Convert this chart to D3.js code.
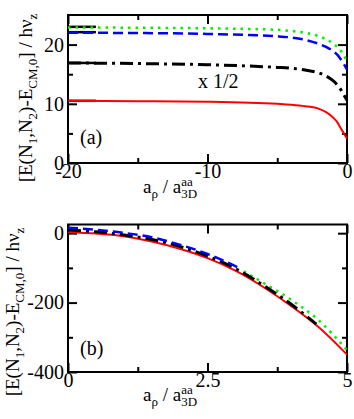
<!DOCTYPE html>
<html>
<head>
<meta charset="utf-8">
<script src="https://cdn.jsdelivr.net/npm/d3@7"></script>
<style>
  body { margin: 0; background: #fff; }
  text { font-family: "Liberation Serif", "DejaVu Serif", serif; }
</style>
</head>
<body>
<div id="chart"></div>
<script>
// panel (a): energies vs a_rho (negative side)
const aX = [-20, -15, -10, -5, -4, -3, -2, -1.5, -1, -0.7, -0.5, -0.3, -0.2, -0.1, 0]
const aRed = [10.5, 10.45, 10.35, 10.0, 9.85, 9.6, 9.15, 8.6, 7.7, 6.9, 6.1, 5.3, 4.9, 4.5, 4.1]
const aBlue = [22.0, 21.95, 21.8, 21.4, 21.2, 20.8, 20.1, 19.6, 18.9, 18.3, 17.7, 17.0, 16.6, 16.2, 15.8]
const aGreen = [22.9, 22.85, 22.75, 22.5, 22.3, 22.0, 21.4, 20.9, 20.2, 19.6, 19.1, 18.5, 18.1, 17.6]
const aBlack = [16.9, 16.8, 16.6, 16.15, 16.0, 15.7, 15.2, 14.7, 13.9, 13.2, 12.6, 11.8, 11.4, 11.0, 10.6]
// short reference bars at the left edge
const aRefLevels = [23.0, 22.1, 16.9, 10.5]
const aRefRange = [-20, -18]

// panel (b): energies vs a_rho (positive side)
const bX = [0, 0.5, 1, 1.5, 2, 2.5, 3, 3.5, 4, 4.5, 5]
const bRed = [3, -1, -9, -24, -45, -72, -108, -155, -210, -272, -350]
const bBlueX = [0, 0.5, 1, 1.5, 2, 2.5, 3, 3.1]
const bBlue = [16, 10, 1, -12, -33, -60, -95, -103]
const bBlackX = [0, 0.5, 1, 1.5, 2, 2.5, 3, 3.5, 4, 4.45]
const bBlack = [9, 4, -5, -18, -38, -66, -102, -150, -205, -262]
const bGreenX = [3.15, 3.5, 4, 4.5, 5]
const bGreen = [-110, -143, -192, -252, -337]

const aMajorX = [-20, -10, 0], aMinorX = [-15, -5]
const aMajorY = [0, 10, 20], aMinorY = [5, 15]
const bMajorX = [0, 2.5, 5], bMinorX = [1.25, 3.75]
const bMajorY = [-400, -200, 0], bMinorY = [-300, -100]

const width = 354, height = 419
const fs = 19, tfs = 20, small = 13

const svg = d3.select("#chart").append("svg")
  .attr("width", width)
  .attr("height", height)

// plain hyphen minus like the original
const fmt = d => String(d)

// rich text with sub/superscripts
function rich(sel, parts) {
  let cur = 0
  let prev = null
  parts.forEach(p => {
    const [t, m, stack] = p
    const off = m == "sub" ? 5 : m == "sup" ? -7 : 0
    const ts = sel.append("tspan")
      .attr("dy", off - cur)
      .style("font-size", m ? small + "px" : fs + "px")
      .text(t)
    if (stack && prev) ts.attr("dx", -prev.node().getComputedTextLength())
    cur = off
    prev = ts
  })
  if (cur != 0) sel.append("tspan").attr("dy", -cur).text("")
}

const yLabelParts = [["[E(N"], ["1", "sub"], [",N"], ["2", "sub"], [")-E"], ["CM,0", "sub"], ["] / h\u03bd"], ["z", "sub"]]
const xLabelParts = [["a"], ["\u03c1", "sub"], [" / a"], ["aa", "sup"], ["3D", "sub", true]]

function panel(cfg) {
  const { x, y, majorX, minorX, majorY, minorY } = cfg
  const g = svg.append("g")
  const [x0, x1] = x.range()
  const [y0, y1] = y.range()

  g.append("g").attr("transform", `translate(0,${y0})`)
    .call(d3.axisBottom(x).tickValues(majorX).tickSize(-9).tickPadding(1).tickFormat(fmt))
  g.append("g").attr("transform", `translate(0,${y0})`)
    .call(d3.axisBottom(x).tickValues(minorX).tickSize(-5).tickFormat(""))
  g.append("g").attr("transform", `translate(0,${y1})`)
    .call(d3.axisTop(x).tickValues(majorX).tickSize(-9).tickFormat(""))
  g.append("g").attr("transform", `translate(0,${y1})`)
    .call(d3.axisTop(x).tickValues(minorX).tickSize(-5).tickFormat(""))
  g.append("g").attr("transform", `translate(${x0},0)`)
    .call(d3.axisLeft(y).tickValues(majorY).tickSize(-9).tickPadding(4).tickFormat(fmt))
  g.append("g").attr("transform", `translate(${x0},0)`)
    .call(d3.axisLeft(y).tickValues(minorY).tickSize(-5).tickFormat(""))
  g.append("g").attr("transform", `translate(${x1},0)`)
    .call(d3.axisRight(y).tickValues(majorY).tickSize(-9).tickFormat(""))
  g.append("g").attr("transform", `translate(${x1},0)`)
    .call(d3.axisRight(y).tickValues(minorY).tickSize(-5).tickFormat(""))

  g.selectAll(".domain").remove()
  g.selectAll(".tick line").attr("stroke", "#000").attr("stroke-width", 2)
  g.selectAll(".tick text")
    .attr("font-family", "Liberation Serif")
    .style("font-size", tfs + "px")
    .attr("fill", "#000")

  g.append("rect")
    .attr("x", x0).attr("y", y1)
    .attr("width", x1 - x0).attr("height", y0 - y1)
    .attr("fill", "none").attr("stroke", "#000").attr("stroke-width", 2)
  return g
}

function drawLine(g, xs, ys, x, y, color, dash, w) {
  const line = d3.line().x(d => x(d[0])).y(d => y(d[1])).curve(d3.curveMonotoneX)
  g.append("path")
    .datum(xs.map((v, i) => [v, ys[i]]))
    .attr("d", line)
    .attr("fill", "none")
    .attr("stroke", color)
    .attr("stroke-width", w)
    .attr("stroke-dasharray", dash)
}

// ---- panel (a)
const xA = d3.scaleLinear().domain([-20, 0]).range([68, 347])
const yA = d3.scaleLinear().domain([0, 25]).range([163, 15])
const gA = panel({ x: xA, y: yA, majorX: aMajorX, minorX: aMinorX, majorY: aMajorY, minorY: aMinorY })

gA.selectAll("line.ref")
  .data(aRefLevels)
  .enter().append("line")
  .attr("class", "ref")
  .attr("x1", xA(aRefRange[0])).attr("x2", xA(aRefRange[1]))
  .attr("y1", d => yA(d)).attr("y2", d => yA(d))
  .attr("stroke", "#000").attr("stroke-width", 2.5)

drawLine(gA, aX, aRed, xA, yA, "#ff0000", null, 2)
drawLine(gA, aX, aBlack, xA, yA, "#000", "13,5,3,5", 3)
drawLine(gA, aX, aBlue, xA, yA, "#0000ff", "10,5", 2.5)
drawLine(gA, aX.slice(0, aGreen.length), aGreen, xA, yA, "#00f000", "2.5,5", 2.5)

gA.append("text").attr("x", 198).attr("y", 88).style("font-size", tfs + "px").text("x 1/2")
gA.append("text").attr("x", 80).attr("y", 144).style("font-size", tfs + "px").text("(a)")

rich(svg.append("text").attr("x", 143).attr("y", 193).style("font-size", fs + "px"), xLabelParts)
rich(svg.append("text").attr("transform", "translate(32,98) rotate(-90)")
  .attr("text-anchor", "middle").style("font-size", fs + "px"), yLabelParts)

// ---- panel (b)
const xB = d3.scaleLinear().domain([0, 5]).range([68, 347])
const yB = d3.scaleLinear().domain([-400, 25]).range([372, 224.5])
const gB = panel({ x: xB, y: yB, majorX: bMajorX, minorX: bMinorX, majorY: bMajorY, minorY: bMinorY })

drawLine(gB, bX, bRed, xB, yB, "#ff0000", null, 2)
drawLine(gB, bGreenX, bGreen, xB, yB, "#00f000", "2.5,5", 2.5)
drawLine(gB, bBlackX, bBlack, xB, yB, "#000", "13,5,3,5", 3)
drawLine(gB, bBlueX, bBlue, xB, yB, "#0000ff", "10,5", 2.5)

gB.append("text").attr("x", 80).attr("y", 355).style("font-size", tfs + "px").text("(b)")

rich(svg.append("text").attr("x", 143).attr("y", 401).style("font-size", fs + "px"), xLabelParts)
rich(svg.append("text").attr("transform", "translate(19,312) rotate(-90)")
  .attr("text-anchor", "middle").style("font-size", fs + "px"), yLabelParts)
</script>
</body>
</html>
